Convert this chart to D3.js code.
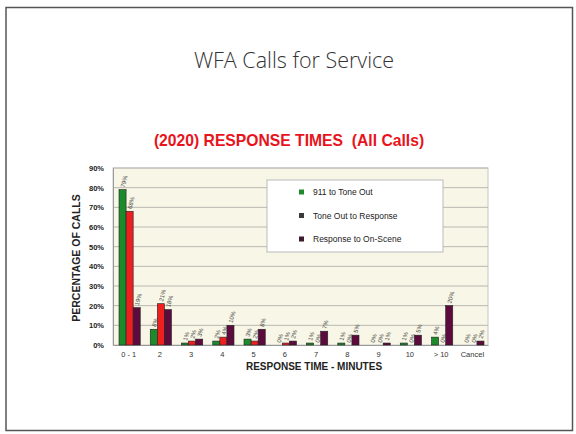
<!DOCTYPE html>
<html><head><meta charset="utf-8">
<script src="https://cdn.jsdelivr.net/npm/d3@7"></script>
<style>body{margin:0;background:#fff}svg{display:block}</style>
</head><body>
<svg id="c" width="576" height="434"></svg>
<script>
const categories = ["0 - 1","2","3","4","5","6","7","8","9","10","> 10","Cancel"];
const seriesNames = ["911 to Tone Out","Tone Out to Response","Response to On-Scene"];
const toneOut   = [79, 8, 1, 2, 3, 0, 1, 1, 0, 1, 4, 0];
const response  = [68, 21, 2, 4, 2, 1, 0, 0, 0, 0, 0, 0];
const onScene   = [19, 18, 3, 10, 8, 2, 7, 5, 1, 5, 20, 2];
const yTicks = [0,10,20,30,40,50,60,70,80,90];
const barColors = ["#1d8a2c","#ee1f1f","#5c0b3c"];
const legendColors = ["#1d8a2c","#3a3a3a","#3d1a2c"];

const svg = d3.select("#c");
// slide frame
svg.append("rect").attr("x",6).attr("y",7.5).attr("width",566.5).attr("height",423)
  .attr("fill","#fff").attr("stroke","#555").attr("stroke-width",1.5);

svg.append("text").attr("x",294).attr("y",68).attr("text-anchor","middle")
  .attr("font-family","'Open Sans', sans-serif").attr("font-weight",300).attr("font-size",21.5)
  .attr("fill","#333").text("WFA Calls for Service");
svg.append("text").attr("x",289).attr("y",146).attr("text-anchor","middle")
  .style("white-space","pre")
  .attr("font-family","'Liberation Sans', Arial, sans-serif").attr("font-weight","bold").attr("font-size",15.7)
  .attr("fill","#e8141c").text("(2020) RESPONSE TIMES  (All Calls)");

const L=113, R=488, T=168, B=345;
const x = d3.scaleBand().domain(categories).range([L,R]);
const y = d3.scaleLinear().domain([0,90]).range([B,T]);

svg.append("rect").attr("x",L).attr("y",T).attr("width",R-L).attr("height",B-T)
  .attr("fill","#f8f6e6").attr("stroke","#c8c8c8");

svg.append("g").selectAll("line").data(yTicks.slice(1)).join("line")
  .attr("x1",L).attr("x2",R).attr("y1",d=>y(d)).attr("y2",d=>y(d))
  .attr("stroke","#b8b8b0").attr("stroke-width",1);

const yAxis = svg.append("g").attr("transform",`translate(${L},0)`)
  .call(d3.axisLeft(y).tickValues(yTicks).tickFormat(d=>d+"%").tickSize(0).tickPadding(9));
yAxis.select(".domain").attr("stroke","#999");
yAxis.selectAll("text").attr("font-family","'Liberation Sans', Arial, sans-serif")
  .attr("font-weight","bold").attr("font-size",7.5).attr("fill","#222");

const xAxis = svg.append("g").attr("transform",`translate(0,${B})`)
  .call(d3.axisBottom(x).tickSize(0).tickPadding(7));
xAxis.select(".domain").attr("stroke","#999");
xAxis.selectAll("text").attr("font-family","'Liberation Sans', Arial, sans-serif")
  .attr("font-size",7.5).attr("fill","#333");

svg.append("text").attr("transform","translate(80,258) rotate(-90)").attr("text-anchor","middle")
  .attr("font-family","'Liberation Sans', Arial, sans-serif").attr("font-weight","bold").attr("font-size",10.5)
  .attr("fill","#222").text("PERCENTAGE OF CALLS");
svg.append("text").attr("x",314).attr("y",370).attr("text-anchor","middle")
  .attr("font-family","'Liberation Sans', Arial, sans-serif").attr("font-weight","bold").attr("font-size",10)
  .attr("fill","#222").text("RESPONSE TIME - MINUTES");

const series = [toneOut, response, onScene];
const inner = d3.scaleBand().domain([0,1,2]).range([0, x.bandwidth()*0.68]);
const off = x.bandwidth()*0.16 + 1;
series.forEach((vals,si)=>{
  const g = svg.append("g");
  g.selectAll("rect").data(vals).join("rect")
    .attr("x",(d,i)=>x(categories[i])+off+inner(si))
    .attr("y",d=>y(d)).attr("width",inner.bandwidth()).attr("height",d=>B-y(d))
    .attr("fill",barColors[si]).attr("stroke","#222").attr("stroke-width",0.6);
  g.selectAll("text").data(vals).join("text")
    .attr("transform",(d,i)=>`translate(${x(categories[i])+off+inner(si)+inner.bandwidth()/2+2},${y(d)-2}) rotate(-75)`)
    .attr("font-family","'Liberation Sans', Arial, sans-serif").attr("font-size",6)
    .attr("fill","#444").text(d=>d+"%");
});

// legend
const lg = svg.append("g");
lg.append("rect").attr("x",267).attr("y",180).attr("width",176).attr("height",72)
  .attr("fill","#fff").attr("stroke","#bbb");
seriesNames.forEach((n,i)=>{
  const yy = 192 + i*23.5;
  lg.append("rect").attr("x",299).attr("y",yy-2.5).attr("width",5).attr("height",5).attr("fill",legendColors[i]);
  lg.append("text").attr("x",313).attr("y",yy+3).attr("font-family","'Liberation Sans', Arial, sans-serif")
    .attr("font-size",8.5).attr("fill","#222").text(n);
});
</script>
</body></html>
